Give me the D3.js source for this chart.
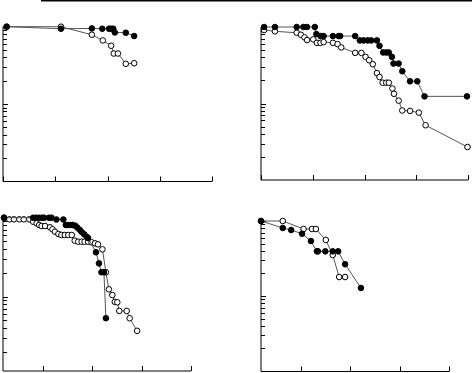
<!DOCTYPE html>
<html>
<head>
  <meta charset="utf-8">
  <script src="https://d3js.org/d3.v7.min.js"></script>
  <style>
    body { margin: 0; background: #fff; }
    svg { display: block; }
  </style>
</head>
<body>
<svg id="chart" width="472" height="373"></svg>
<script>
  // panel 1 (top left)
  var p1FilledT = [0.07, 1.11, 1.70, 1.90, 2.03, 2.07, 2.11, 2.14, 2.35, 2.51];
  var p1FilledS = [1.0, 0.942, 0.95, 0.942, 0.942, 0.942, 0.942, 0.843, 0.836, 0.757];
  var p1OpenT = [0.07, 1.11, 1.70, 1.91, 2.07, 2.12, 2.20, 2.35, 2.51];
  var p1OpenS = [1.0, 1.0, 0.787, 0.664, 0.567, 0.45, 0.45, 0.331, 0.337];

  // panel 2 (top right)
  var p2FilledT = [0.06, 0.27, 0.69, 0.82, 0.89, 1.04, 1.07, 1.15, 1.21, 1.39, 1.50, 1.53, 1.82,
    1.91, 1.98, 2.06, 2.13, 2.24, 2.29, 2.36, 2.42, 2.47, 2.53, 2.56, 2.66, 2.73, 2.88, 3.02, 3.16, 3.98];
  var p2FilledS = [1.0, 1.0, 1.0, 1.0, 1.0, 1.0, 0.809, 0.761, 0.761, 0.761, 0.761, 0.761, 0.761,
    0.668, 0.668, 0.668, 0.668, 0.668, 0.567, 0.465, 0.465, 0.465, 0.407, 0.333, 0.333, 0.264, 0.195, 0.195, 0.124, 0.124];
  var p2OpenT = [0.06, 0.27, 0.69, 0.77, 0.84, 0.89, 1.01, 1.08, 1.15, 1.21, 1.39, 1.48, 1.55, 1.82, 1.94, 2.02,
    2.09, 2.16, 2.24, 2.29, 2.35, 2.42, 2.47, 2.54, 2.57, 2.66, 2.73, 2.88, 3.05, 3.18, 3.99];
  var p2OpenS = [0.913, 0.878, 0.841, 0.792, 0.732, 0.675, 0.689, 0.621, 0.621, 0.635, 0.621, 0.597, 0.541, 0.459, 0.459, 0.407,
    0.368, 0.326, 0.25, 0.222, 0.187, 0.187, 0.187, 0.157, 0.134, 0.109, 0.081, 0.080, 0.076, 0.052, 0.027];

  // panel 3 (bottom left)
  var p3FilledT = [0.22, 0.81, 0.87, 0.93, 0.99, 1.03, 1.13, 1.18, 1.28, 1.42, 1.47, 1.51, 1.56, 1.61, 1.66,
    1.70, 1.75, 1.79, 1.84, 1.89, 1.92, 2.08, 2.14, 2.19, 2.24, 2.28];
  var p3FilledS = [1.0, 1.0, 1.0, 1.0, 1.0, 1.0, 1.0, 1.0, 0.949, 0.949, 0.808, 0.808, 0.808, 0.808, 0.792,
    0.752, 0.705, 0.659, 0.617, 0.575, 0.553, 0.365, 0.264, 0.204, 0.204, 0.0534];
  var p3OpenT = [0.22, 0.33, 0.42, 0.53, 0.62, 0.73, 0.81, 0.88, 0.93, 0.98, 1.05, 1.15, 1.20, 1.25, 1.32, 1.38,
    1.45, 1.52, 1.59, 1.65, 1.72, 1.79, 1.85, 1.92, 1.99, 2.06, 2.12, 2.21, 2.28, 2.34, 2.41, 2.46, 2.51,
    2.55, 2.70, 2.76, 2.91];
  var p3OpenS = [1.0, 0.954, 0.954, 0.954, 0.954, 0.954, 0.890, 0.849, 0.808, 0.785, 0.785, 0.756, 0.713, 0.665, 0.622, 0.604,
    0.604, 0.604, 0.604, 0.512, 0.497, 0.497, 0.497, 0.497, 0.488, 0.474, 0.460, 0.398, 0.204, 0.124, 0.105, 0.086, 0.085,
    0.066, 0.066, 0.0534, 0.037];

  // panel 4 (bottom right)
  var p4FilledT = [0.2, 0.64, 0.81, 1.03, 1.21, 1.33, 1.35, 1.50, 1.65, 1.76, 1.90, 2.22];
  var p4FilledS = [1.0, 0.807, 0.759, 0.677, 0.541, 0.394, 0.394, 0.394, 0.394, 0.394, 0.265, 0.128];
  var p4OpenT = [0.2, 0.64, 1.06, 1.23, 1.31, 1.51, 1.65, 1.78, 1.90];
  var p4OpenS = [1.0, 1.0, 0.782, 0.782, 0.782, 0.558, 0.352, 0.179, 0.179];

  var xTicks = [0, 1, 2, 3, 4];
  var yTicks = [1, 0.9, 0.8, 0.7, 0.6, 0.5, 0.4, 0.3, 0.2, 0.1,
    0.09, 0.08, 0.07, 0.06, 0.05, 0.04, 0.03, 0.02];

  var panels = [
    { t0: 0, left: 3, right: 212, top: 26.7, decade: 77.3, bottom: 181.5,
      filled: [p1FilledT, p1FilledS], open: [p1OpenT, p1OpenS] },
    { t0: 0, left: 261, right: 468, top: 27, decade: 76.5, bottom: 180,
      filled: [p2FilledT, p2FilledS], open: [p2OpenT, p2OpenS] },
    { t0: 0.2, left: 3, right: 191, top: 217.7, decade: 79, bottom: 371,
      filled: [p3FilledT, p3FilledS], open: [p3OpenT, p3OpenS] },
    { t0: 0.2, left: 261, right: 449, top: 221, decade: 75, bottom: 371.5,
      filled: [p4FilledT, p4FilledS], open: [p4OpenT, p4OpenS] }
  ];

  var svg = d3.select("#chart");

  // rule across the top (left over from the page above)
  svg.append("line")
    .attr("x1", 41).attr("x2", 472).attr("y1", 0.75).attr("y2", 0.75)
    .attr("stroke", "#000").attr("stroke-width", 1.5);

  function zip(a) {
    return a[0].map(function (t, i) { return { t: t, s: a[1][i] }; });
  }

  panels.forEach(function (p) {
    var x = d3.scaleLinear().domain([p.t0, 4]).range([p.left, p.right]);
    var y = d3.scaleLog().domain([1, 0.01]).range([p.top, p.top + 2 * p.decade]);
    var g = svg.append("g");

    // axes
    g.append("line").attr("x1", p.left).attr("x2", p.left)
      .attr("y1", p.top).attr("y2", p.bottom)
      .attr("stroke", "#000").attr("stroke-width", 1);
    g.append("line").attr("x1", p.left).attr("x2", p.right)
      .attr("y1", p.bottom).attr("y2", p.bottom)
      .attr("stroke", "#000").attr("stroke-width", 1);

    g.selectAll(".yt").data(yTicks).enter().append("line")
      .attr("x1", p.left)
      .attr("x2", function (d) { return p.left + (d === 1 || d === 0.1 ? 5 : 4); })
      .attr("y1", function (d) { return Math.round(y(d)) + 0.5; })
      .attr("y2", function (d) { return Math.round(y(d)) + 0.5; })
      .attr("stroke", "#000").attr("stroke-width", 1);

    g.selectAll(".xt").data(xTicks.filter(function (d) { return d >= p.t0; })).enter().append("line")
      .attr("x1", function (d) { return Math.round(x(d)) + 0.5; })
      .attr("x2", function (d) { return Math.round(x(d)) + 0.5; })
      .attr("y1", p.bottom).attr("y2", p.bottom - 5)
      .attr("stroke", "#000").attr("stroke-width", 1);

    var line = d3.line().x(function (d) { return x(d.t); }).y(function (d) { return y(d.s); });

    [["open", "#fff"], ["filled", "#000"]].forEach(function (k) {
      var pts = zip(p[k[0]]);
      g.append("path").datum(pts).attr("d", line)
        .attr("fill", "none").attr("stroke", "#555").attr("stroke-width", 1);
      g.selectAll(".m-" + k[0]).data(pts).enter().append("circle")
        .attr("cx", function (d) { return x(d.t); })
        .attr("cy", function (d) { return y(d.s); })
        .attr("r", 2.8)
        .attr("fill", k[1]).attr("stroke", "#000").attr("stroke-width", 1);
    });
  });
</script>
</body>
</html>
